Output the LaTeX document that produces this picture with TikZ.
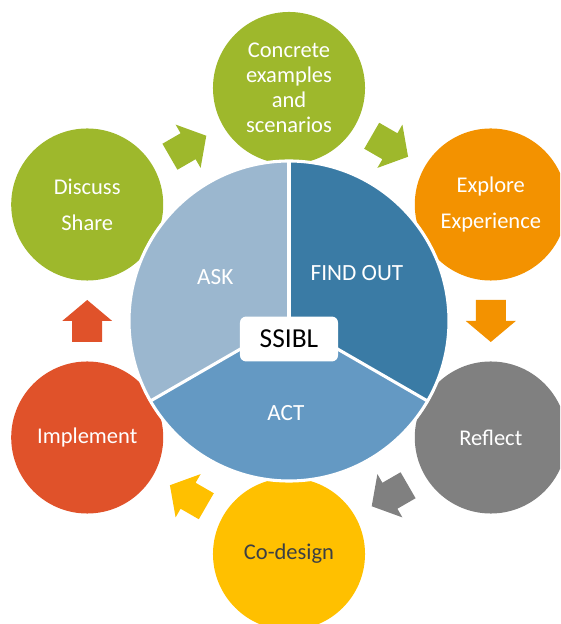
\documentclass[tikz,border=0pt]{standalone}
\usepackage{fontspec}
\setmainfont{Carlito}
\usepackage{tikz}
\usetikzlibrary{calc}
\definecolor{askblue}{HTML}{9BB7CF}
\definecolor{findblue}{HTML}{3A7BA5}
\definecolor{actblue}{HTML}{6499C3}
\definecolor{leafgreen}{HTML}{9EB82C}
\definecolor{sunorange}{HTML}{F39200}
\definecolor{stonegray}{HTML}{808080}
\definecolor{goldyellow}{HTML}{FFC000}
\definecolor{ssiblred}{HTML}{E0522A}
\definecolor{inkgray}{HTML}{3B3F45}
\tikzset{
    stage/.style={circle, minimum size=3.8cm, inner sep=0pt, text=white, align=center, font=\fontsize{16}{25.5}\selectfont},
    part/.style={text=white, font=\fontsize{16.5}{19}\selectfont},
    hub/.style={fill=white, rounded corners=0.15cm, minimum width=2.45cm, minimum height=1.12cm, font=\fontsize{19.5}{22}\selectfont},
    bigarrow/.pic={\fill[#1] (-21,-15) -- (0,-15) -- (0,-25) -- (21,0) -- (0,25) -- (0,15) -- (-21,15) -- cycle;}
}
\begin{document}
\begin{tikzpicture}[x=0.025cm, y=0.025cm]
            \useasboundingbox (0,0) rectangle (560,624);
            \clip (0,0) rectangle (560,624);
            \coordinate (centre) at (289,303);
            \node[stage, fill=leafgreen, font=\fontsize{16}{17.7}\selectfont] (concrete) at ($(centre)+(90:233)$) {Concrete\\examples\\and\\scenarios};
            \node[stage, fill=sunorange] (explore) at ($(centre)+(30:233)$) {Explore\\Experience};
            \node[stage, fill=stonegray] (reflect) at ($(centre)+(-30:233)$) {Reflect};
            \node[stage, fill=goldyellow, text=inkgray] (codesign) at ($(centre)+(-90:233)$) {Co-design};
            \node[stage, fill=ssiblred] (implement) at ($(centre)+(-150:233)$) {Implement};
            \node[stage, fill=leafgreen] (discuss) at ($(centre)+(150:233)$) {Discuss\\Share};
            \foreach \src/\dst/\col in {discuss/concrete/leafgreen, concrete/explore/leafgreen, explore/reflect/sunorange, reflect/codesign/stonegray, codesign/implement/goldyellow, implement/discuss/ssiblred}
                \path let \p1 = ($(\dst)-(\src)$) in ($(\src)!0.5!(\dst)$) pic[rotate={atan2(\y1,\x1)}] {bigarrow=\col};
            \fill[askblue] (centre) -- ++(90:160) arc[start angle=90, end angle=210, radius=160] -- cycle;
            \fill[findblue] (centre) -- ++(-30:160) arc[start angle=-30, end angle=90, radius=160] -- cycle;
            \fill[actblue] (centre) -- ++(210:160) arc[start angle=210, end angle=330, radius=160] -- cycle;
            \draw[white, line width=2.2pt] (centre) circle[radius=160];
            \foreach \a in {90,210,330}
                \draw[white, line width=2.2pt] (centre) -- ++(\a:160);
            \node[part] (ask) at ($(centre)+(149:86)$) {ASK};
            \node[part] (findout) at ($(centre)+(35:83)$) {FIND OUT};
            \node[part] (act) at ($(centre)+(-92:92)$) {ACT};
            \node[hub] (ssibl) at ($(centre)+(0,-18)$) {SSIBL};
        \end{tikzpicture}
\end{document}
